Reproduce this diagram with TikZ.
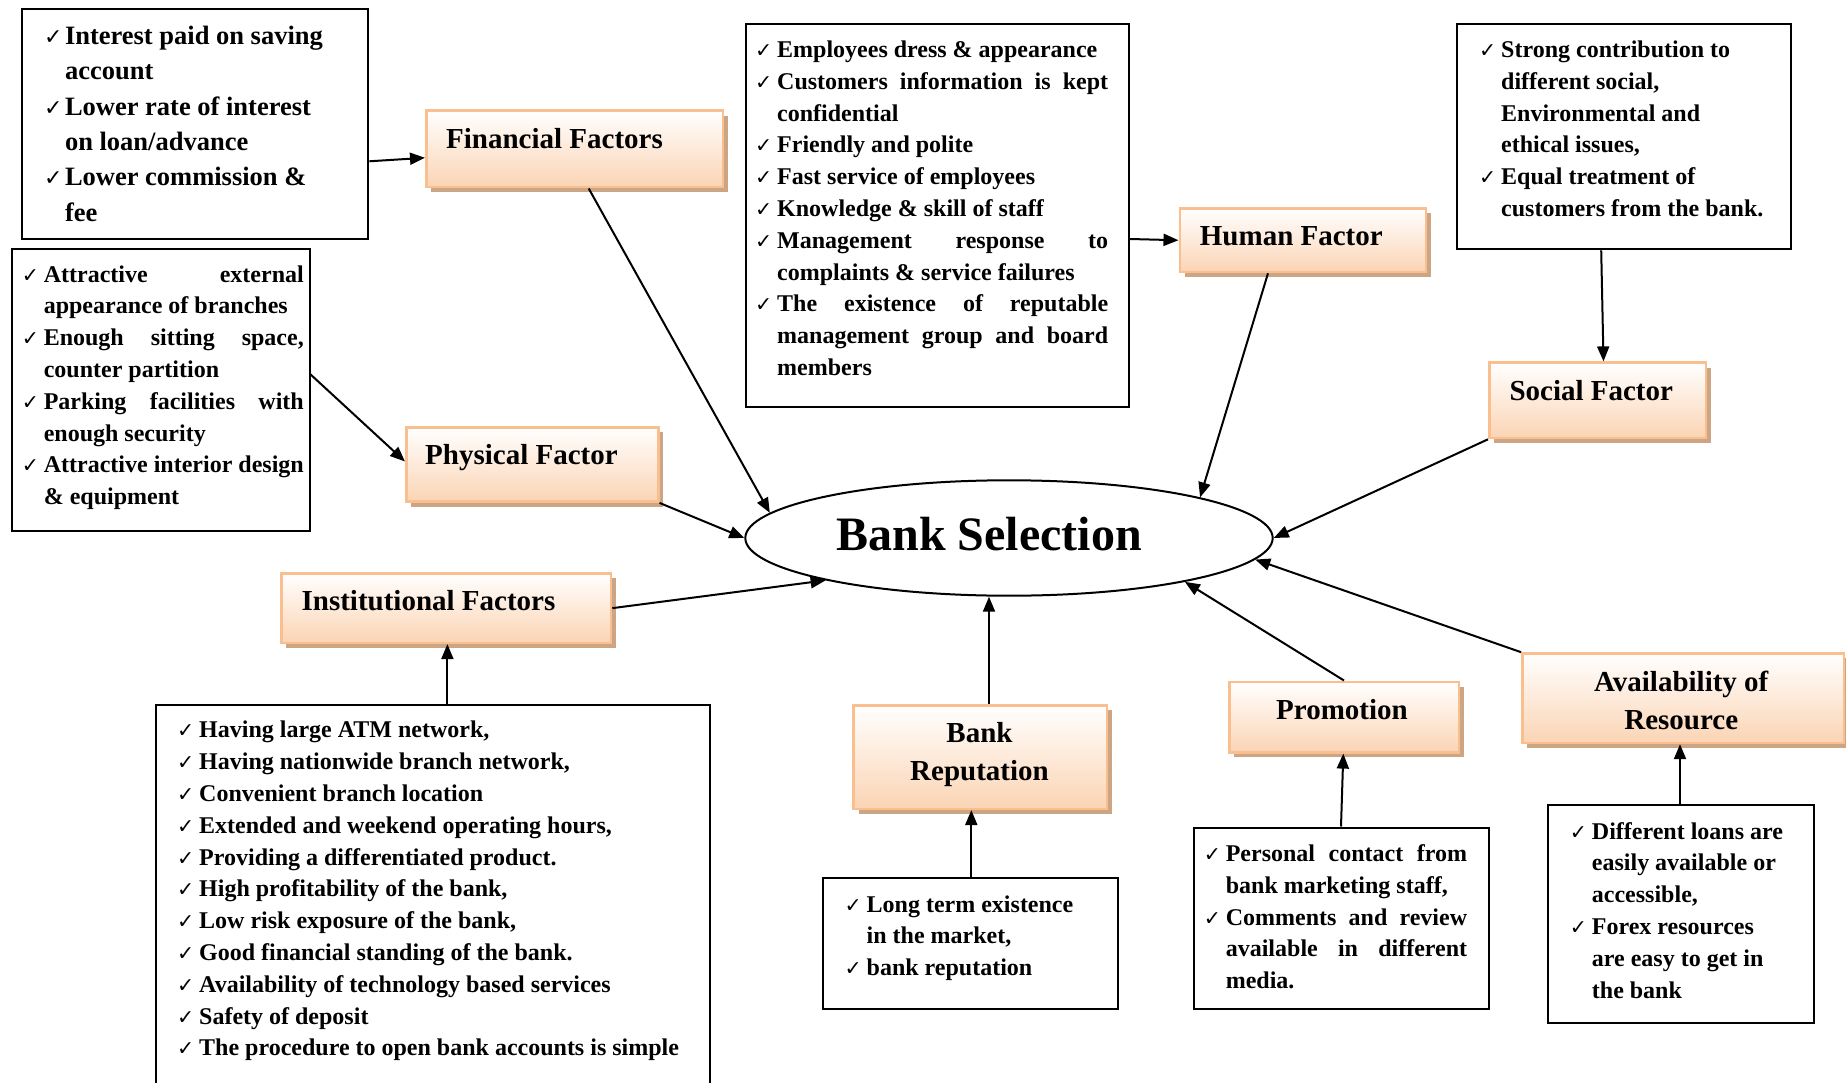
\documentclass[tikz,border=0pt]{standalone}
\usepackage{fontspec}
\setmainfont{Liberation Serif}
\newfontfamily\ckfont{DejaVu Sans}
\usetikzlibrary{shapes.geometric,shadows,arrows.meta}

\definecolor{peach}{RGB}{251,212,180}
\definecolor{pborder}{RGB}{250,191,143}
\definecolor{pshadow}{RGB}{204,166,132}

\newlength\ckw \setlength\ckw{22pt}
\newcommand\ckm{\makebox[\ckw][l]{\ckfont\fontsize{20.5}{20.5}\selectfont ✓}}
\newcommand\ckmb{\makebox[21pt][l]{\ckfont\fontsize{22}{22}\selectfont ✓}}
\newcommand\ind{\hspace*{\ckw}}
\newcommand\indb{\hspace*{21pt}}
\newcommand\jl[2]{\makebox[#1][s]{#2}}

\begin{document}
\begin{tikzpicture}[x=1pt,y=-1pt,
  tbox/.style={draw, line width=2pt, inner sep=0pt, anchor=north west},
  fbox/.style={draw=pborder, line width=2.5pt, top color=white, bottom color=peach,
     drop shadow={shadow xshift=5pt, shadow yshift=-5pt, fill=pshadow, opacity=1},
     inner sep=0pt, anchor=north west},
  body/.style={inner sep=0pt, anchor=north west, align=left,
     font=\bfseries\fontsize{24}{31.8}\selectfont},
  lbl/.style={inner sep=0pt, font=\bfseries\fontsize{29}{38}\selectfont},
  arr/.style={line width=2pt, -{Triangle[length=15pt,width=12pt]}}]

\useasboundingbox (0,0) rectangle (1846,1083);
\fill[white] (0,0) rectangle (1846,1083);

% ---------- text boxes ----------
\node[tbox, minimum width=346.1pt, minimum height=229.6pt] (fa) at (21.2,8.2) {};
\node[inner sep=0pt, anchor=north west, align=left,
      font=\bfseries\fontsize{26.5}{35.3}\selectfont] (fatx) at (43.8,19.6)
 {\strut\ckmb Interest paid on saving\\
  \indb account\\
  \ckmb Lower rate of interest\\
  \indb on loan/advance\\
  \ckmb Lower commission \&\\
  \indb fee};

\node[tbox, minimum width=297.9pt, minimum height=281.4pt] (pt) at (10.6,248.4) {};
\node[body] (pttx) at (21.6,259.7)
 {\strut\ckm\jl{260pt}{Attractive external}\\
  \ind appearance of branches\\
  \ckm\jl{260pt}{Enough sitting space,}\\
  \ind counter partition\\
  \ckm\jl{260pt}{Parking facilities with}\\
  \ind enough security\\
  \ckm\jl{260pt}{Attractive interior design}\\
  \ind \& equipment};

\node[tbox, minimum width=382.7pt, minimum height=382.7pt] (et) at (745.2,23.5) {};
\node[body] (ettx) at (755,35)
 {\strut\ckm Employees dress \& appearance\\
  \ckm\jl{331pt}{Customers information is kept}\\
  \ind confidential\\
  \ckm Friendly and polite\\
  \ckm Fast service of employees\\
  \ckm Knowledge \& skill of staff\\
  \ckm\jl{331pt}{Management response to}\\
  \ind complaints \& service failures\\
  \ckm\jl{331pt}{The existence of reputable}\\
  \ind\jl{331pt}{management group and board}\\
  \ind members};

\node[tbox, minimum width=333.2pt, minimum height=224.9pt] (st) at (1456.3,23.5) {};
\node[body] (sttx) at (1479,35)
 {\strut\ckm Strong contribution to\\
  \ind different social,\\
  \ind Environmental and\\
  \ind ethical issues,\\
  \ckm Equal treatment of\\
  \ind customers from the bank.};

\node[tbox, minimum width=553.3pt, minimum height=400pt] (int) at (155.4,704) {};
\node[body] (inttx) at (177,715.5)
 {\strut\ckm Having large ATM network,\\
  \ckm Having nationwide branch network,\\
  \ckm Convenient branch location\\
  \ckm Extended and weekend operating hours,\\
  \ckm Providing a differentiated product.\\
  \ckm High profitability of the bank,\\
  \ckm Low risk exposure of the bank,\\
  \ckm Good financial standing of the bank.\\
  \ckm Availability of technology based services\\
  \ckm Safety of deposit\\
  \ckm The procedure to open bank accounts is simple};

\node[tbox, minimum width=295.5pt, minimum height=130.7pt] (bt) at (821.8,877.1) {};
\node[body] (bttx) at (844.5,889.7)
 {\strut\ckm Long term existence\\
  \ind in the market,\\
  \ckm bank reputation};

\node[tbox, minimum width=295.5pt, minimum height=181.3pt] (prt) at (1192.6,826.5) {};
\node[body] (prttx) at (1203.6,839.1)
 {\strut\ckm\jl{241.3pt}{Personal contact from}\\
  \ind bank marketing staff,\\
  \ckm\jl{241.3pt}{Comments and review}\\
  \ind\jl{241.3pt}{available in different}\\
  \ind media.};

\node[tbox, minimum width=266pt, minimum height=217.8pt] (avt) at (1547,804.1) {};
\node[body] (avttx) at (1569.7,816.7)
 {\strut\ckm Different loans are\\
  \ind easily available or\\
  \ind accessible,\\
  \ckm Forex resources\\
  \ind are easy to get in\\
  \ind the bank};

% ---------- factor boxes ----------
\node[fbox, minimum width=296.7pt, minimum height=76.5pt] (ff) at (425,109.5) {};
\node[lbl, anchor=base west] (fflb) at (446,148.5) {Financial Factors};

\node[fbox, minimum width=252pt, minimum height=74.2pt] (pf) at (405,426.2) {};
\node[lbl, anchor=base west] (pflb) at (425,464) {Physical Factor};

\node[fbox, minimum width=246pt, minimum height=63.6pt] (hf) at (1178.5,207.2) {};
\node[lbl, anchor=base west] (hflb) at (1199.7,246) {Human Factor};

\node[fbox, minimum width=216.7pt, minimum height=75.4pt] (sf) at (1488,361.4) {};
\node[lbl, anchor=base west] (sflb) at (1509.3,400.5) {Social Factor};

\node[fbox, minimum width=329.6pt, minimum height=69.4pt] (inf) at (280.2,572.2) {};
\node[lbl, anchor=base west] (inflb) at (301.4,610) {Institutional Factors};

\node[fbox, minimum width=253.1pt, minimum height=103.6pt] (br) at (852.4,704) {};
\node[lbl, anchor=north, align=center, font=\bfseries\fontsize{29}{38.8}\selectfont]
  (brlb) at (979.5,714.8) {\strut Bank\\Reputation};

\node[fbox, minimum width=229.5pt, minimum height=70.6pt] (pm) at (1228,680.5) {};
\node[lbl, anchor=base] (pmlb) at (1342,719.6) {Promotion};

\node[fbox, minimum width=321.4pt, minimum height=89.5pt] (av) at (1521.1,652.2) {};
\node[lbl, anchor=north, align=center, font=\bfseries\fontsize{29}{37.7}\selectfont]
  (avlb) at (1681.2,664.9) {\strut Availability of\\Resource};

% ---------- centre ----------
\node[ellipse, draw, line width=2pt, inner sep=0pt,
      minimum width=527.4pt, minimum height=115.4pt] (bs) at (1009,538) {};
\node[inner sep=0pt, anchor=base, font=\bfseries\fontsize{48}{56}\selectfont]
  (bslb) at (989,550.5) {Bank Selection};

% ---------- connectors ----------
\draw[arr] (fa.east |- 0,161.3) -- (ff.west |- 0,157.8);
\draw[arr] (588.7,0 |- ff.south) -- (bs.174.6);
\draw[arr] (pt.east |- 0,374.4) -- (pf.west |- 0,461.5);
\draw[arr] (pf.south east) -- (bs.180);
\draw[arr] (et.east |- 0,239) -- (hf.west);
\draw[arr] (1268,0 |- hf.south) -- (bs.12.8);
\draw[arr] (1601.2,0 |- st.south) -- (1603.5,0 |- sf.north);
\draw[arr] (sf.south west) -- (bs.0);
\draw[arr] (inf.east) -- (bs.193.8);
\draw[arr] (447.4,0 |- int.north) -- (447.4,0 |- inf.south);
\draw[arr] (989,0 |- br.north) -- (989,0 |- bs.south);
\draw[arr] (971.3,0 |- bt.north) -- (971.3,0 |- br.south);
\draw[arr] (pm.north) -- (bs.346);
\draw[arr] (1341,0 |- prt.north) -- (1343.3,0 |- pm.south);
\draw[arr] (av.north west) -- (bs.355.6);
\draw[arr] (1680,0 |- avt.north) -- (1680,0 |- av.south);
\end{tikzpicture}
\end{document}
